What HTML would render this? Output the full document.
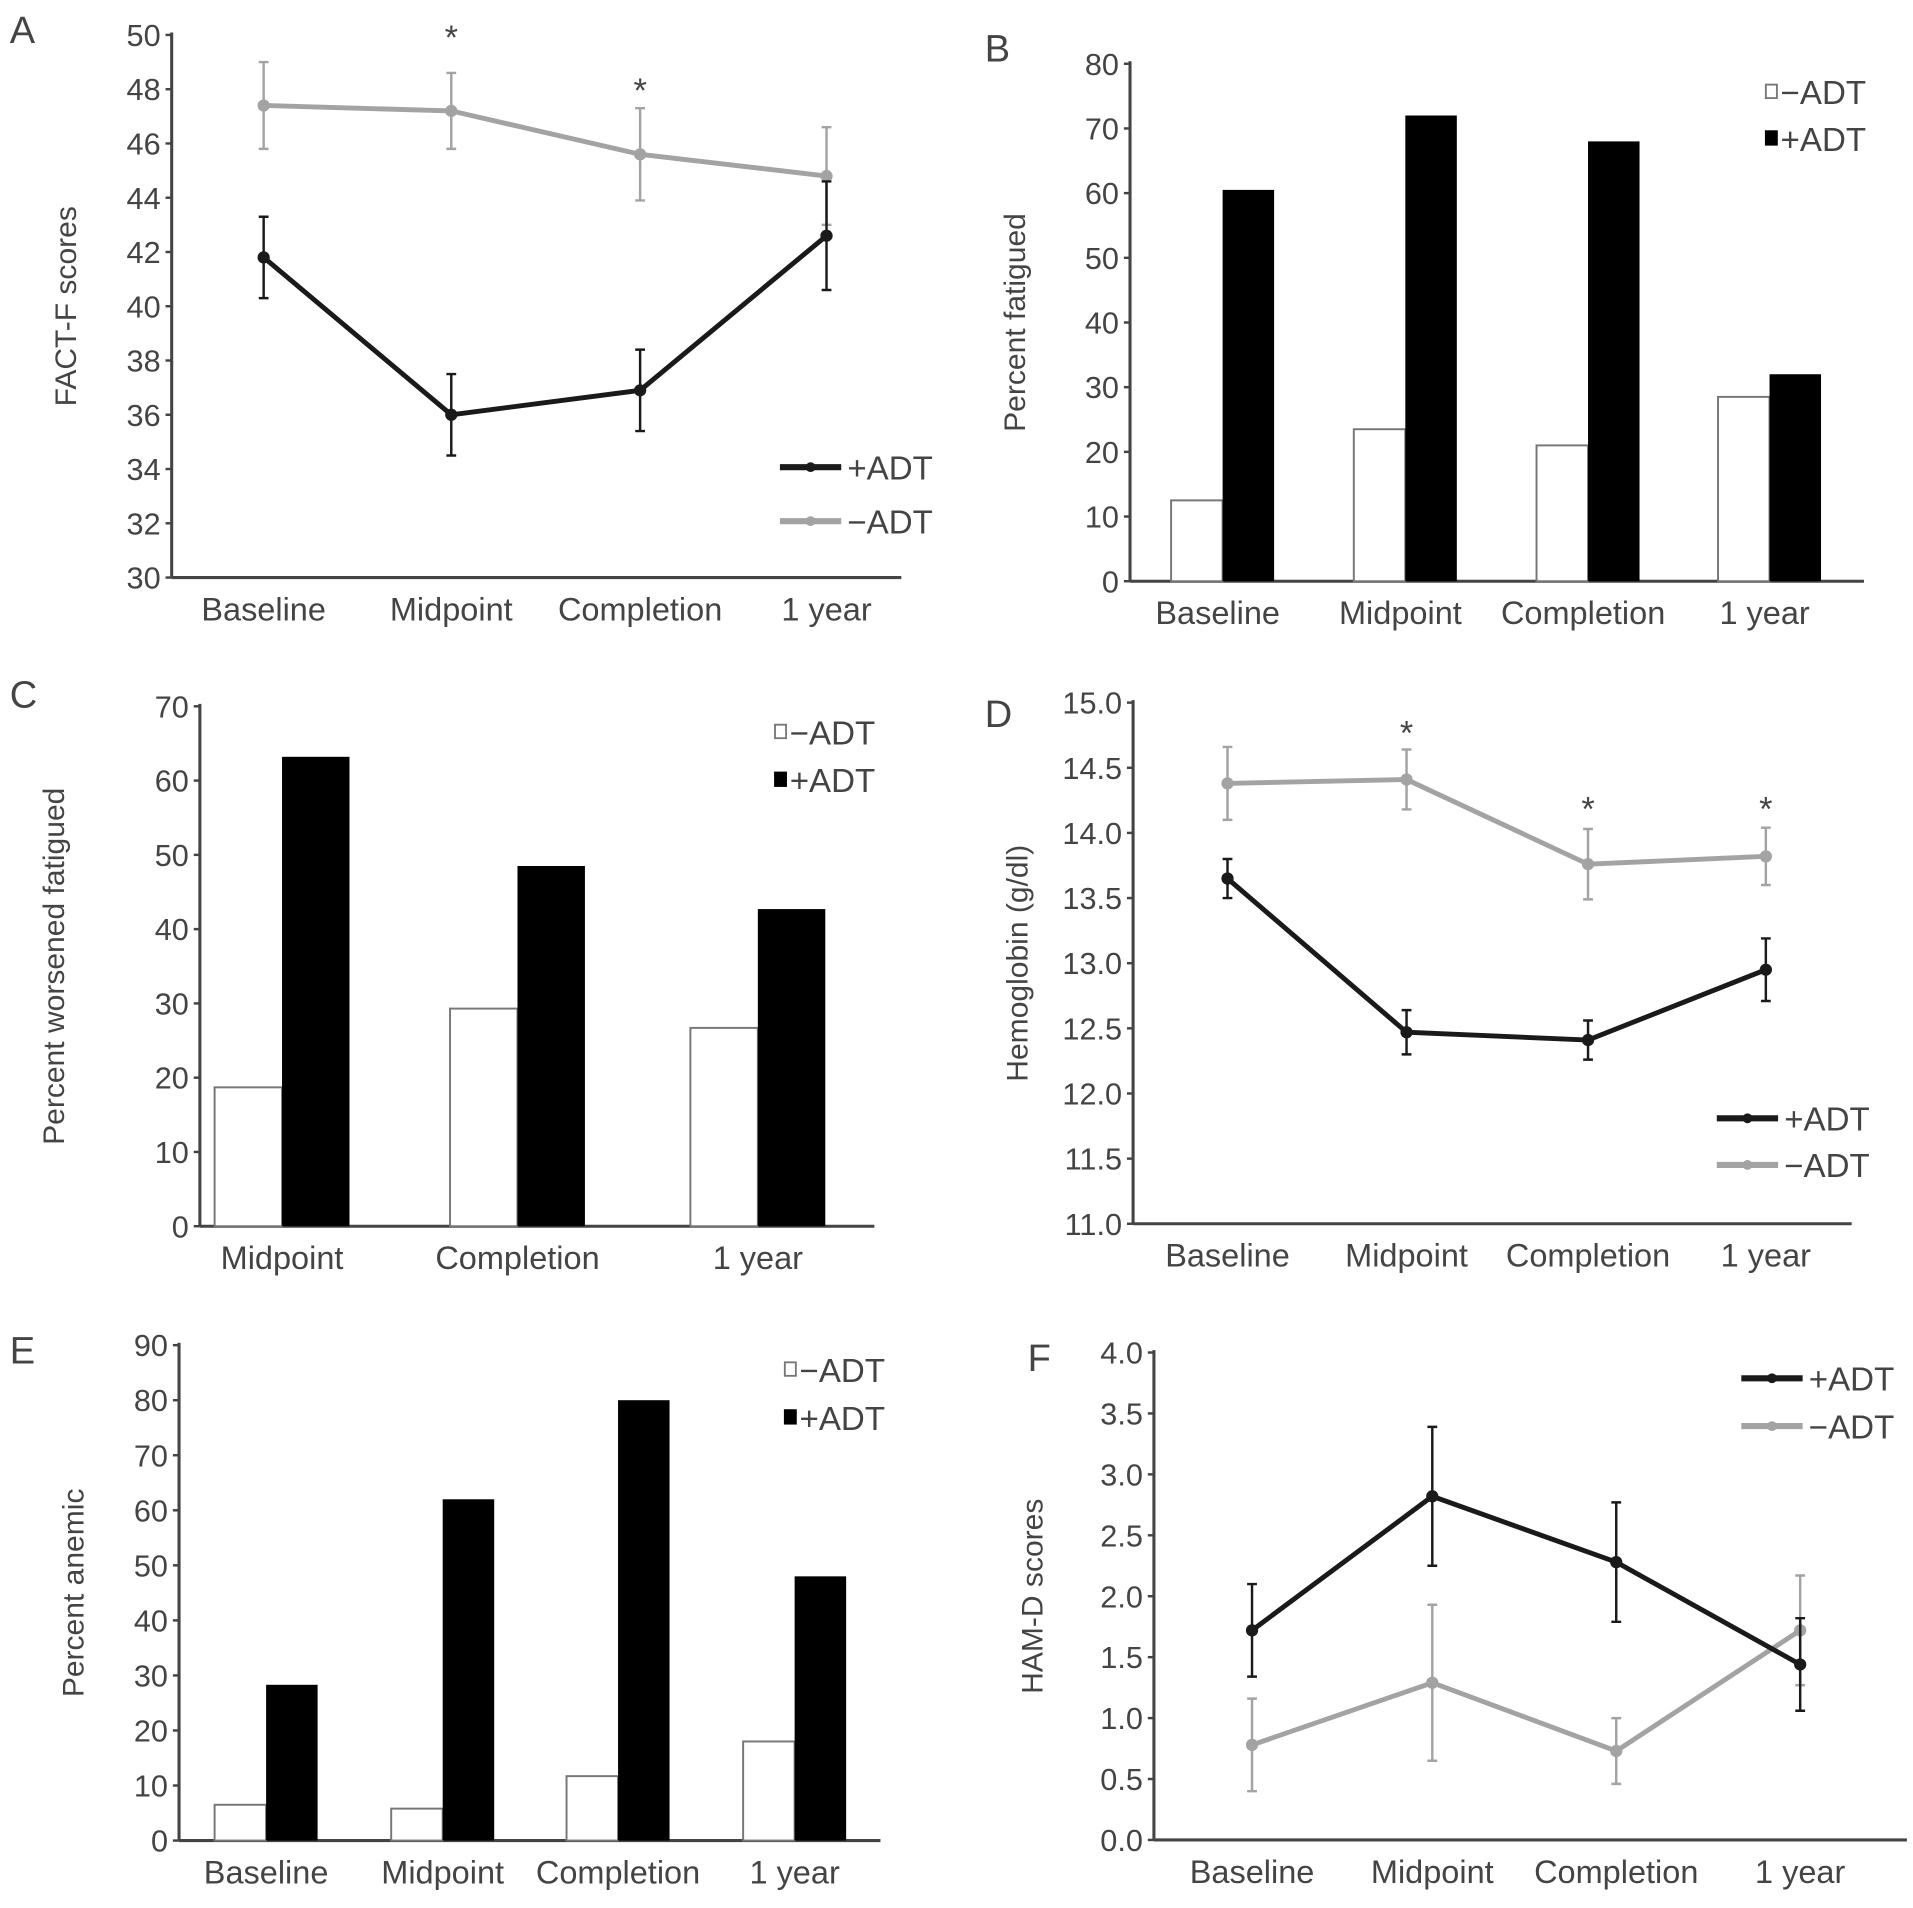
<!DOCTYPE html>
<html><head><meta charset="utf-8"><style>
html,body{margin:0;padding:0;background:#fff;}
svg{display:block;}
text{font-family:"Liberation Sans",Arial,sans-serif;fill:#444;}
</style></head><body>
<svg id="fig" width="1913" height="1908" viewBox="0 0 1560 1556" preserveAspectRatio="none" xmlns="http://www.w3.org/2000/svg"></svg>
<script>
// ---- Panel A data ----
const aCats = ["Baseline","Midpoint","Completion","1 year"];
const aPlus = [41.8, 36.0, 36.9, 42.6];
const aPlusErr = [1.5, 1.5, 1.5, 2.0];
const aMinus = [47.4, 47.2, 45.6, 44.8];
const aMinusErr = [1.6, 1.4, 1.7, 1.8];
const aTicks = [30,32,34,36,38,40,42,44,46,48,50];
// ---- Panel B data ----
const bCats = ["Baseline","Midpoint","Completion","1 year"];
const bMinus = [12.5, 23.5, 21, 28.5];
const bPlus = [60.5, 72, 68, 32];
const bTicks = [0,10,20,30,40,50,60,70,80];
// ---- Panel C data ----
const cCats = ["Midpoint","Completion","1 year"];
const cMinus = [18.7, 29.3, 26.7];
const cPlus = [63.2, 48.5, 42.7];
const cTicks = [0,10,20,30,40,50,60,70];
// ---- Panel D data ----
const dCats = ["Baseline","Midpoint","Completion","1 year"];
const dPlus = [13.65, 12.47, 12.41, 12.95];
const dPlusErr = [0.15, 0.17, 0.15, 0.24];
const dMinus = [14.38, 14.41, 13.76, 13.82];
const dMinusErr = [0.28, 0.23, 0.27, 0.22];
const dTicks = ["11.0","11.5","12.0","12.5","13.0","13.5","14.0","14.5","15.0"];
// ---- Panel E data ----
const eCats = ["Baseline","Midpoint","Completion","1 year"];
const eMinus = [6.5, 5.8, 11.7, 18];
const ePlus = [28.3, 62, 80, 48];
const eTicks = [0,10,20,30,40,50,60,70,80,90];
// ---- Panel F data ----
const fCats = ["Baseline","Midpoint","Completion","1 year"];
const fPlus = [1.72, 2.82, 2.28, 1.44];
const fPlusErr = [0.38, 0.57, 0.49, 0.38];
const fMinus = [0.78, 1.29, 0.73, 1.72];
const fMinusErr = [0.38, 0.64, 0.27, 0.45];
const fTicks = ["0.0","0.5","1.0","1.5","2.0","2.5","3.0","3.5","4.0"];

const NS="http://www.w3.org/2000/svg";
const svg=document.getElementById('fig');
function mk(tag,attrs,parent,text){const e=document.createElementNS(NS,tag);for(const k in attrs)e.setAttribute(k,attrs[k]);if(text!==undefined)e.textContent=text;(parent||svg).appendChild(e);return e;}

function axes(p){
  const g=mk('g',{});
  
  
  const ymin=parseFloat(p.ticks[0]),ymax=parseFloat(p.ticks[p.ticks.length-1]);
  p.y=v=>p.y0+(p.y1-p.y0)*(v-ymin)/(ymax-ymin);
  let t=mk('text',{x:p.lx,y:p.ly,'font-size':31,fill:'#222'},g,p.letter);
  
  
  let ax=mk('line',{x1:p.ax,y1:p.y1-2,x2:p.ax,y2:p.y0,stroke:'#444','stroke-width':2.5},g);
  
  
  let bx=mk('line',{x1:p.ax,y1:p.y0,x2:p.right,y2:p.y0,stroke:'#444','stroke-width':2.5},g);
  
  
  p.ticks.forEach(tk=>{
    const yy=p.y(parseFloat(tk));
    mk('line',{x1:p.ax-5,y1:yy,x2:p.ax,y2:yy,stroke:'#444','stroke-width':2},g);
    const tl=mk('text',{x:p.ax-9,y:yy+9,'font-size':25,'text-anchor':'end'},g,String(tk));
    
    
  });
  p.cats.forEach((c,i)=>{
    const cl=mk('text',{x:p.cx[i]+(p.lshift||0),y:p.y0+35,'font-size':26.5,'text-anchor':'middle'},g,c);
    
    
  });
  const yt=mk('text',{x:0,y:0,'font-size':24.5,'text-anchor':'middle',transform:`translate(${p.tx},${(p.y0+p.y1)/2}) rotate(-90)`},g,p.title);
  
  
  p.g=g;return p;
}

function lineSeries(p,vals,errs,color,name){
  const g=mk('g',{},p.g);
  
  
  vals.forEach((v,i)=>{
    const x=p.cx[i];
    const eb=mk('path',{d:`M${x},${p.y(v-errs[i])}V${p.y(v+errs[i])}M${x-4},${p.y(v-errs[i])}h8M${x-4},${p.y(v+errs[i])}h8`,stroke:color,'stroke-width':2,fill:'none'},g);
    
    
  });
  const pts=vals.map((v,i)=>p.cx[i]+','+p.y(v)).join(' ');
  const pl=mk('polyline',{points:pts,stroke:color,'stroke-width':4,fill:'none'},g);
  
  
  vals.forEach((v,i)=>{
    const c=mk('circle',{cx:p.cx[i],cy:p.y(v),r:5,fill:color},g);
    
    
  });
}

function lineLegend(p,x,y,color,label){
  const g=mk('g',{},p.g);
  
  
  mk('line',{x1:x,y1:y,x2:x+50,y2:y,stroke:color,'stroke-width':5},g);
  mk('circle',{cx:x+25,cy:y,r:4,fill:color},g);
  mk('text',{x:x+55,y:y+10,'font-size':27},g,label);
}
function barLegend(p,x,y,filled,label){
  const g=mk('g',{},p.g);
  
  
  mk('rect',{x:x,y:y-6,width:9,height:11,fill:filled?'#000':'#fff',stroke:filled?'#000':'#777','stroke-width':1.5},g);
  mk('text',{x:x+12,y:y+10,'font-size':27},g,label);
}
function bars(p,minus,plus,w){
  minus.forEach((v,i)=>{
    const r=mk('rect',{x:p.cx[i]-w,y:p.y(v),width:w,height:p.y0-p.y(v),fill:'#fff',stroke:'#777','stroke-width':1.6},p.g);
    
    
  });
  plus.forEach((v,i)=>{
    const r=mk('rect',{x:p.cx[i],y:p.y(v),width:w,height:p.y0-p.y(v),fill:'#000'},p.g);
    
    
  });
}
function star(p,x,y){
  const s=mk('text',{x:x,y:y,'font-size':28,'text-anchor':'middle'},p.g,'*');
  
  
}

// Panel A
const A=axes({name:'panel-a',letter:'A',lx:8,ly:35,ax:140,right:735,y0:471,y1:28.5,ticks:aTicks,cats:aCats,cx:[215,368,522,674],tx:62,title:'FACT-F scores'});
lineSeries(A,aMinus,aMinusErr,'#a3a3a3','series-minus-adt');
lineSeries(A,aPlus,aPlusErr,'#1a1a1a','series-plus-adt');
star(A,368,40);star(A,522,83);
lineLegend(A,636,381,'#1a1a1a','+ADT');
lineLegend(A,636,425,'#a3a3a3','−ADT');

// Panel B
const B=axes({name:'panel-b',letter:'B',lx:803,ly:50,ax:921.5,right:1520,y0:474,y1:52,ticks:bTicks,cats:bCats,cx:[997,1146,1295,1443],lshift:-4,tx:836,title:'Percent fatigued'});
bars(B,bMinus,bPlus,42);
barLegend(B,1440,75,false,'−ADT');
barLegend(B,1440,113,true,'+ADT');

// Panel C
const C=axes({name:'panel-c',letter:'C',lx:8,ly:577,ax:163,right:713,y0:1000,y1:576,ticks:cTicks,cats:cCats,cx:[230,422,618],tx:52,title:'Percent worsened fatigued'});
bars(C,cMinus,cPlus,55);
barLegend(C,632,597,false,'−ADT');
barLegend(C,632,636,true,'+ADT');

// Panel D
const D=axes({name:'panel-d',letter:'D',lx:803,ly:593,ax:924,right:1510,y0:998,y1:573,ticks:dTicks,cats:dCats,cx:[1001,1147,1295,1440],tx:838,title:'Hemoglobin (g/dl)'});
lineSeries(D,dMinus,dMinusErr,'#a3a3a3','series-minus-adt');
lineSeries(D,dPlus,dPlusErr,'#1a1a1a','series-plus-adt');
star(D,1147,607);star(D,1295,669);star(D,1440,669);
lineLegend(D,1400,912,'#1a1a1a','+ADT');
lineLegend(D,1400,950,'#a3a3a3','−ADT');

// Panel E
const E=axes({name:'panel-e',letter:'E',lx:8,ly:1112,ax:146,right:718,y0:1501,y1:1097,ticks:eTicks,cats:eCats,cx:[217,361,504,648],tx:68,title:'Percent anemic'});
bars(E,eMinus,ePlus,42);
barLegend(E,640,1117,false,'−ADT');
barLegend(E,640,1156,true,'+ADT');

// Panel F
const F=axes({name:'panel-f',letter:'F',lx:838,ly:1118,ax:941,right:1555,y0:1500.5,y1:1103,ticks:fTicks,cats:fCats,cx:[1021,1168,1318,1468],tx:850,title:'HAM-D scores'});
lineSeries(F,fMinus,fMinusErr,'#a3a3a3','series-minus-adt');
lineSeries(F,fPlus,fPlusErr,'#1a1a1a','series-plus-adt');
lineLegend(F,1420,1124,'#1a1a1a','+ADT');
lineLegend(F,1420,1163,'#a3a3a3','−ADT');
</script>
</body></html>
